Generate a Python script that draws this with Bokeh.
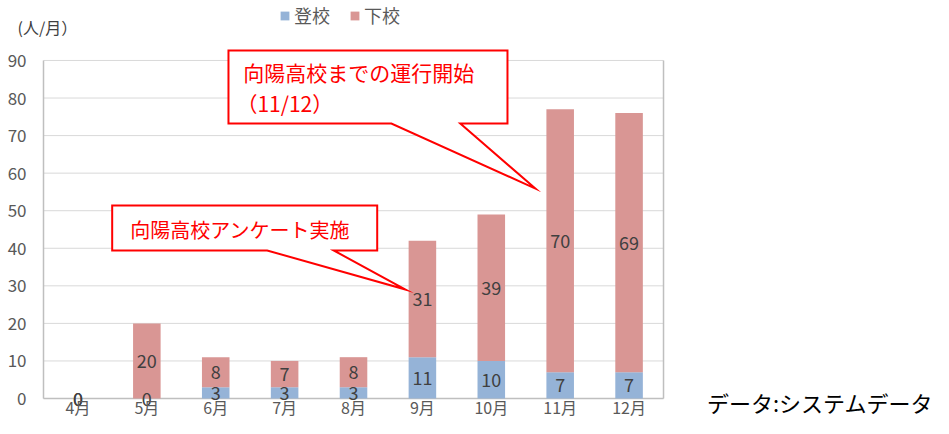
from bokeh.plotting import figure
from bokeh.models import Range1d, FixedTicker, Legend, LegendItem, Label, ColumnDataSource
from bokeh.embed import file_html
from bokeh.resources import INLINE
from bokeh.core.properties import value

# ---- data ----
months = ["4月", "5月", "6月", "7月", "8月", "9月", "10月", "11月", "12月"]
toko = [0, 0, 3, 3, 3, 11, 10, 7, 7]        # 登校
geko = [0, 20, 8, 7, 8, 31, 39, 70, 69]     # 下校
series_names = ["登校", "下校"]
y_ticks = [0, 10, 20, 30, 40, 50, 60, 70, 80, 90]
unit_label = "(人/月）"
source_label = "データ:システムデータ"
callout1_lines = ["向陽高校までの運行開始", "（11/12）"]
callout2_lines = ["向陽高校アンケート実施"]

# ---- styles / annotation geometry ----
colors = ["#95B3D7", "#D99694"]
FONT = "Noto Sans CJK JP"
# callout shapes (data coords): left, right, top, bottom, notch x0, notch x1, tip x, tip y
callout1 = dict(l=2.685, r=6.735, t=92.66, b=73.2, n0=5.05, n1=6.05, tx=7.14, ty=55.9)
callout2 = dict(l=0.997, r=4.844, t=51.39, b=39.41, n0=3.247, n1=4.213, tx=5.255, ty=29.02)

n = len(months)
y_top = y_ticks[-1]
xc = [i + 0.5 for i in range(n)]
toko_mid = [v / 2 for v in toko]
geko_mid = [a + b / 2 for a, b in zip(toko, geko)]

src = ColumnDataSource(dict(x=xc, toko=toko, geko=geko))

# the frame covers the whole canvas; axes are drawn at fixed data locations
p = figure(width=933, height=418, x_range=Range1d(-0.6242, 12.919), y_range=Range1d(-5.325, 105.97),
           output_backend="svg", toolbar_location=None,
           min_border_left=0, min_border_right=0, min_border_top=0, min_border_bottom=0)
p.outline_line_color = None
p.background_fill_color = "white"
p.border_fill_color = "white"
p.xgrid.visible = False
p.ygrid.visible = False

# horizontal gridlines of the plot area
p.segment(x0=[0] * len(y_ticks), y0=y_ticks, x1=[n] * len(y_ticks), y1=y_ticks,
          line_color="#D9D9D9", line_width=1)
# bottom and right frame borders
p.segment(x0=[0], y0=[0], x1=[n], y1=[0], line_color="#BFBFBF", line_width=1.5)
p.segment(x0=[n], y0=[0], x1=[n], y1=[y_top], line_color="#BFBFBF", line_width=1.5)

rs = p.vbar_stack(["toko", "geko"], x="x", width=0.4, color=colors, line_color=None, source=src)

# axes
p.yaxis.fixed_location = 0
p.yaxis.bounds = (0, y_top)
p.yaxis.ticker = FixedTicker(ticks=y_ticks)
p.yaxis.axis_line_color = "#BFBFBF"
p.yaxis.axis_line_width = 1.5
p.yaxis.major_tick_line_color = None
p.yaxis.minor_tick_line_color = None
p.yaxis.major_tick_out = 0
p.yaxis.minor_tick_out = 0
p.yaxis.major_label_standoff = 17
p.yaxis.major_label_text_font = FONT
p.yaxis.major_label_text_font_size = "17px"
p.yaxis.major_label_text_color = "#595959"

# category labels: axis placed slightly above the baseline so its labels stay on the canvas
p.xaxis.fixed_location = 1.0
p.xaxis.bounds = (0, n)
p.xaxis.ticker = FixedTicker(ticks=xc)
p.xaxis.major_label_overrides = {x: m for x, m in zip(xc, months)}
p.xaxis.axis_line_color = None
p.xaxis.major_tick_line_color = None
p.xaxis.minor_tick_line_color = None
p.xaxis.major_tick_out = 0
p.xaxis.minor_tick_out = 0
p.xaxis.major_label_standoff = 0
p.xaxis.major_label_text_font = FONT
p.xaxis.major_label_text_font_size = "16px"
p.xaxis.major_label_text_color = "#595959"

# data labels
lab = ColumnDataSource(dict(
    x=xc + xc,
    y=toko_mid + geko_mid,
    t=[str(v) for v in toko] + [str(v) for v in geko],
))
p.text(x="x", y="y", text="t", source=lab, text_align="center", text_baseline="middle",
       text_font=value(FONT), text_font_size="18px", text_color="#404040")

# callouts
def callout(c):
    xs = [c["l"], c["r"], c["r"], c["n1"], c["tx"], c["n0"], c["l"]]
    ys = [c["t"], c["t"], c["b"], c["b"], c["ty"], c["b"], c["b"]]
    p.patch(xs, ys, fill_color="white", line_color="#FF0000", line_width=2, line_join="miter")

callout(callout1)
callout(callout2)

p.add_layout(Label(x=2.90, y=86.8, text=callout1_lines[0], text_font=FONT, text_font_size="21px",
                   text_color="#FF0000", text_baseline="middle", text_align="left"))
p.add_layout(Label(x=2.80, y=78.8, text=callout1_lines[1], text_font=FONT, text_font_size="21px",
                   text_color="#FF0000", text_baseline="middle", text_align="left"))
p.add_layout(Label(x=1.26, y=45.0, text=callout2_lines[0], text_font=FONT, text_font_size="20px",
                   text_color="#FF0000", text_baseline="middle", text_align="left"))

# unit label and source
p.add_layout(Label(x=-0.377, y=98.8, text=unit_label, text_font=FONT, text_font_size="16px",
                   text_color="#404040", text_baseline="middle", text_align="left"))
p.add_layout(Label(x=9.63, y=-0.8, text=source_label, text_font=FONT, text_font_size="22px",
                   text_color="#000000", text_baseline="middle", text_align="left"))

# legend
legend = Legend(items=[LegendItem(label=series_names[i], renderers=[rs[i]]) for i in range(2)],
                orientation="horizontal", location=(279, 390), padding=0, margin=0,
                spacing=19, label_standoff=4, glyph_width=11, glyph_height=11, label_height=20,
                border_line_color=None, background_fill_alpha=0,
                label_text_font=FONT, label_text_font_size="18px", label_text_color="#595959")
p.add_layout(legend, "center")

open("out.html", "w").write(file_html(p, INLINE))
